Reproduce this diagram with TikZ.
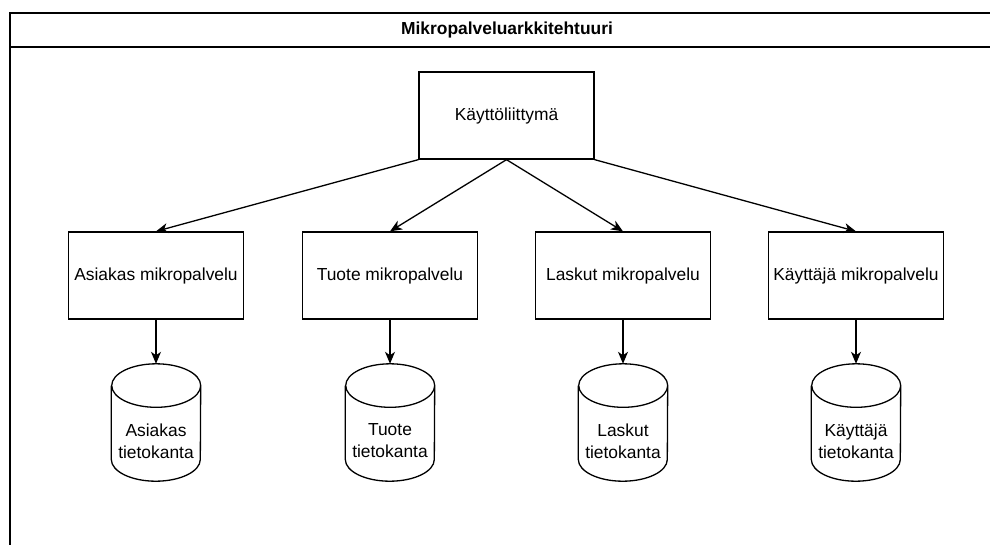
\documentclass[tikz,border=0pt]{standalone}
\usepackage{fontspec}
\setmainfont{Liberation Sans}
\usetikzlibrary{arrows.meta}

% database cylinder drawn around an (empty) node of the given name
\newcommand{\dbcylinder}[1]{%
  \draw[line width=1.3pt, fill=white]
    ([yshift=-21.75pt]#1.north west) -- ([yshift=21.75pt]#1.south west)
    arc[start angle=180, end angle=360, x radius=44.5pt, y radius=21.75pt]
    -- ([yshift=-21.75pt]#1.north east)
    arc[start angle=0, end angle=180, x radius=44.5pt, y radius=21.75pt]
    arc[start angle=180, end angle=360, x radius=44.5pt, y radius=21.75pt];
}

\begin{document}
\begin{tikzpicture}[x=1pt, y=-1pt,
  every node/.style={font=\fontsize{17.4}{22}\selectfont, inner sep=0pt},
  svcbox/.style={draw, line width=1.3pt, fill=white, minimum width=175pt, minimum height=87pt},
  dbbody/.style={minimum width=89pt, minimum height=117pt},
  dblabel/.style={align=center},
  link/.style={line width=1.3pt, -{Stealth[length=12pt, width=10pt, inset=3.5pt]}},
  frameline/.style={line width=1.3pt}
]
\useasboundingbox (0,0) rectangle (990,544);
\clip (0,0) rectangle (990,544);

% outer container with title bar
\draw[frameline] (10,13) rectangle (1004,600);
\draw[frameline] (10,47) -- (1004,47);
\node[font=\bfseries\fontsize{17.4}{22}\selectfont] (title) at (507,30) {Mikropalveluarkkitehtuuri};

% user interface
\node[svcbox] (ui) at (506.5,115.5) {Käyttöliittymä};

% services
\node[svcbox] (asiakas)  at (156,275.5) {Asiakas mikropalvelu};
\node[svcbox] (tuote)    at (390,275.5) {Tuote mikropalvelu};
\node[svcbox] (laskut)   at (623,275.5) {Laskut mikropalvelu};
\node[svcbox] (kayttaja) at (856,275.5) {Käyttäjä mikropalvelu};

% databases
\node[dbbody] (dbA) at (156,422.5) {};
\node[dbbody] (dbT) at (390,422.5) {};
\node[dbbody] (dbL) at (623,422.5) {};
\node[dbbody] (dbK) at (856,422.5) {};
\dbcylinder{dbA}
\dbcylinder{dbT}
\dbcylinder{dbL}
\dbcylinder{dbK}
\node[dblabel] (dbAt) at (156,441) {Asiakas\\tietokanta};
\node[dblabel] (dbTt) at (390,441) {Tuote\\tietokanta};
\node[dblabel] (dbLt) at (623,441) {Laskut\\tietokanta};
\node[dblabel] (dbKt) at (856,441) {Käyttäjä\\tietokanta};

% connectors
\draw[link] (ui.south west) -- (asiakas.north);
\draw[link] (ui.south) -- (tuote.north);
\draw[link] (ui.south) -- (laskut.north);
\draw[link] (ui.south east) -- (kayttaja.north);

\draw[link] (asiakas.south) -- (dbA.north);
\draw[link] (tuote.south) -- (dbT.north);
\draw[link] (laskut.south) -- (dbL.north);
\draw[link] (kayttaja.south) -- (dbK.north);
\end{tikzpicture}
\end{document}
